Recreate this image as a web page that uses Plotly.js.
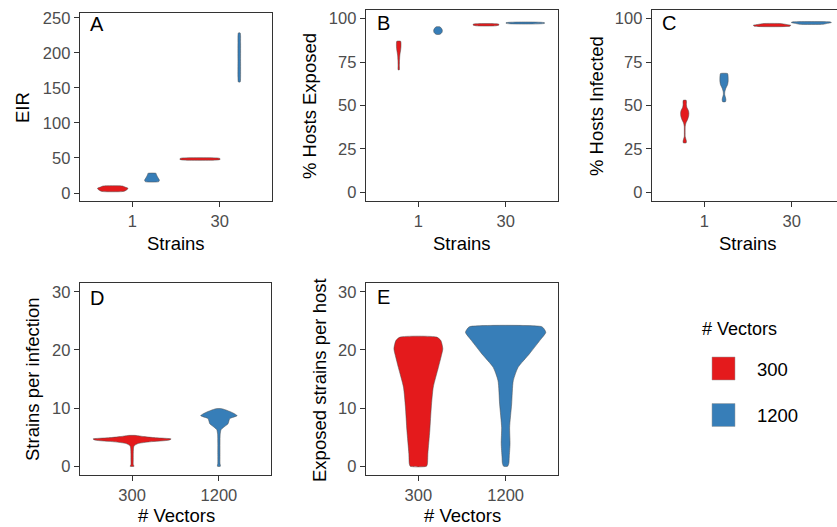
<!DOCTYPE html>
<html><head><meta charset="utf-8">
<script src="https://cdn.plot.ly/plotly-3.0.1.min.js"></script>
<style>html,body{margin:0;padding:0;background:#fff}#chart{width:837px;height:527px}</style>
</head><body><div id="chart"></div>
<script>
// ---------- categories ----------
const strainCats = ['1', '30'];
const vectorCats = ['300', '1200'];
const legendTitle = '# Vectors';

// ---------- violin density profiles ----------
// each violin: value levels (lv) and relative density / half-width at that level (dn, max = 1)
// Panel A: EIR
const eir_v300_s1_lv = [2, 3, 5, 6.7, 8.5, 10];
const eir_v300_s1_dn = [0.6, 0.8, 0.95, 1, 0.8, 0.64];
const eir_v1200_s1_lv = [16, 17, 18.5, 20, 22, 24, 26, 28];
const eir_v1200_s1_dn = [0.85, 0.97, 1, 0.92, 0.8, 0.7, 0.6, 0.55];
const eir_v300_s30_lv = [47, 48, 49, 50];
const eir_v300_s30_dn = [0.85, 1, 1, 0.9];
const eir_v1200_s30_lv = [158.5, 165, 190, 215, 228.5];
const eir_v1200_s30_dn = [0.7, 1, 1, 1, 0.7];
// Panel B: % hosts exposed
const exp_v300_s1_lv = [70.5, 73, 76, 79, 82, 84, 86, 87];
const exp_v300_s1_dn = [0.25, 0.3, 0.35, 0.5, 0.85, 1, 1, 0.85];
const exp_v1200_s1_lv = [91, 92, 93, 94, 95.3];
const exp_v1200_s1_dn = [0.45, 0.9, 1, 0.9, 0.45];
const exp_v300_s30_lv = [95.9, 96.4, 96.9];
const exp_v300_s30_dn = [0.75, 1, 0.95];
const exp_v1200_s30_lv = [97.3, 97.7];
const exp_v1200_s30_dn = [1, 1];
// Panel C: % hosts infected
const inf_v300_s1_lv = [28.5, 29.5, 30.5, 32, 35, 38, 40, 42, 44, 45.5, 47, 49, 50.5, 52, 53];
const inf_v300_s1_dn = [0.35, 0.4, 0.3, 0.12, 0.1, 0.12, 0.3, 0.7, 0.95, 1, 0.9, 0.5, 0.4, 0.42, 0.35];
const inf_v1200_s1_lv = [52.2, 53.5, 55, 56.5, 58, 60, 62, 64, 66, 67.5, 68.4];
const inf_v1200_s1_dn = [0.35, 0.45, 0.3, 0.15, 0.2, 0.45, 0.85, 1, 1, 0.95, 0.85];
const inf_v300_s30_lv = [95.7, 96.2, 96.7, 97.2];
const inf_v300_s30_dn = [0.95, 1, 0.75, 0.45];
const inf_v1200_s30_lv = [96.8, 97.3, 97.8, 98.1];
const inf_v1200_s30_dn = [0.6, 0.8, 1, 0.95];
// Panel D: strains per infection
const spi_v300_lv = [0, 0.3, 1, 2, 3, 3.5, 3.9, 4.2, 4.5, 4.7, 4.9, 5.1, 5.3];
const spi_v300_dn = [0.05, 0.03, 0.03, 0.03, 0.035, 0.05, 0.15, 0.45, 0.95, 1, 0.6, 0.3, 0.1];
const spi_v1200_lv = [0, 0.5, 2, 4, 5.5, 6.3, 6.8, 7.3, 7.8, 8.2, 8.7, 9.2, 9.6, 9.9];
const spi_v1200_dn = [0.08, 0.06, 0.06, 0.06, 0.07, 0.12, 0.3, 0.5, 0.55, 0.6, 1, 0.75, 0.45, 0.15];
// Panel E: exposed strains per host
const esh_v300_lv = [0, 0.4, 2.2, 6.2, 10.2, 13.6, 17, 19, 20.2, 21.6, 22.2];
const esh_v300_dn = [0.33, 0.37, 0.39, 0.47, 0.53, 0.61, 0.82, 0.94, 1, 0.92, 0.75];
const esh_v1200_lv = [0, 0.5, 1.6, 3.9, 6.7, 10.7, 14.7, 17, 19.3, 21.6, 23, 23.6, 24];
const esh_v1200_dn = [0.05, 0.08, 0.09, 0.11, 0.10, 0.15, 0.19, 0.31, 0.59, 0.85, 1, 0.96, 0.9];

// ---------- style ----------
const W = 837, H = 527;
const colors = {'300': '#E41A1C', '1200': '#377EB8'};
const FONT = 'Liberation Sans, Arial, sans-serif';
const dodge = 0.225;
const px = v => v / W;
const py = v => 1 - v / H;

// violin list: [lv, dn, vector group, category index (1-based), panel axis suffix, max width (x units), dodged]
const violins = [
  [eir_v300_s1_lv, eir_v300_s1_dn, '300', 1, '', 0.35, true],
  [eir_v1200_s1_lv, eir_v1200_s1_dn, '1200', 1, '', 0.17, true],
  [eir_v300_s30_lv, eir_v300_s30_dn, '300', 2, '', 0.46, true],
  [eir_v1200_s30_lv, eir_v1200_s30_dn, '1200', 2, '', 0.03, true],
  [exp_v300_s1_lv, exp_v300_s1_dn, '300', 1, '2', 0.052, true],
  [exp_v1200_s1_lv, exp_v1200_s1_dn, '1200', 1, '2', 0.1, true],
  [exp_v300_s30_lv, exp_v300_s30_dn, '300', 2, '2', 0.3, true],
  [exp_v1200_s30_lv, exp_v1200_s30_dn, '1200', 2, '2', 0.44, true],
  [inf_v300_s1_lv, inf_v300_s1_dn, '300', 1, '3', 0.095, true],
  [inf_v1200_s1_lv, inf_v1200_s1_dn, '1200', 1, '3', 0.095, true],
  [inf_v300_s30_lv, inf_v300_s30_dn, '300', 2, '3', 0.43, true],
  [inf_v1200_s30_lv, inf_v1200_s30_dn, '1200', 2, '3', 0.46, true],
  [spi_v300_lv, spi_v300_dn, '300', 1, '4', 0.9, false],
  [spi_v1200_lv, spi_v1200_dn, '1200', 2, '4', 0.42, false],
  [esh_v300_lv, esh_v300_dn, '300', 1, '5', 0.56, false],
  [esh_v1200_lv, esh_v1200_dn, '1200', 2, '5', 0.92, false]
];

const traces = violins.map(([lv, dn, grp, cat, ax, wid, dodged]) => {
  const c = dodged ? cat + (grp === '300' ? -dodge : dodge) : cat;
  const hw = wid / 2;
  const xs = [], ys = [];
  lv.forEach((v, i) => { xs.push(c + dn[i] * hw); ys.push(v); });
  for (let i = lv.length - 1; i >= 0; i--) { xs.push(c - dn[i] * hw); ys.push(lv[i]); }
  xs.push(xs[0]); ys.push(ys[0]);
  return {
    type: 'scatter', mode: 'lines', x: xs, y: ys, fill: 'toself',
    fillcolor: colors[grp], line: {color: '#4a4a4a', width: 0.5, shape: 'spline', smoothing: 0.6},
    xaxis: 'x' + ax, yaxis: 'y' + ax, hoverinfo: 'skip', showlegend: false, name: grp
  };
});

const tickfont = {family: FONT, size: 16.5, color: '#4D4D4D'};
function xa(dom, range, ticktext, anchor) {
  return {domain: [px(dom[0]), px(dom[1])], range, tickvals: [1, 2], ticktext, anchor,
    ticks: 'outside', ticklen: 5, tickwidth: 1, tickcolor: '#333', showline: true, mirror: true,
    linecolor: '#333', linewidth: 1.3, showgrid: false, zeroline: false, tickfont, fixedrange: true};
}
function ya(dom, range, tickvals, anchor, mirror) {
  return {domain: [py(dom[0]), py(dom[1])], range, tickvals, anchor,
    ticks: 'outside', ticklen: 5, tickwidth: 1, tickcolor: '#333', showline: true, mirror,
    linecolor: '#333', linewidth: 1.3, showgrid: false, zeroline: false, tickfont, fixedrange: true};
}

const ann = [];
function text(t, x, y, size, opts) {
  ann.push(Object.assign({text: t, x: px(x), y: py(y), xref: 'paper', yref: 'paper', showarrow: false,
    font: {family: FONT, size, color: '#000'}, xanchor: 'center', yanchor: 'middle'}, opts || {}));
}
// panel letters
text('A', 88, 24, 20, {xanchor: 'left'});
text('B', 375, 23, 20, {xanchor: 'left'});
text('C', 660, 23, 20, {xanchor: 'left'});
text('D', 88, 298, 20, {xanchor: 'left'});
text('E', 375, 297, 20, {xanchor: 'left'});
// axis titles
text('EIR', 22, 108, 18.5, {textangle: -90});
text('% Hosts Exposed', 309, 106, 18.5, {textangle: -90});
text('% Hosts Infected', 596, 106, 18.5, {textangle: -90});
text('Strains', 176, 243, 18.5);
text('Strains', 462, 243, 18.5);
text('Strains', 748, 243, 18.5);
text('Strains per infection', 32, 379, 18.5, {textangle: -90});
text('Exposed strains per host', 319, 380, 18.5, {textangle: -90});
text('# Vectors', 176, 515, 18.5);
text('# Vectors', 462, 515, 18.5);
// legend
text(legendTitle, 700, 329, 18, {xanchor: 'left'});
const shapes = [];
vectorCats.forEach((v, i) => {
  const top = 357 + i * 46.5;
  shapes.push({type: 'rect', xref: 'paper', yref: 'paper', x0: px(712), x1: px(735), y0: py(top + 23), y1: py(top),
    fillcolor: colors[v], line: {color: '#9a9a9a', width: 0.5}});
  text(v, 755, top + 12, 18.5, {xanchor: 'left'});
});

const layout = {
  width: W, height: H, margin: {l: 0, r: 0, t: 0, b: 0}, paper_bgcolor: '#fff', plot_bgcolor: '#fff',
  showlegend: false, font: {family: FONT},
  xaxis: xa([80, 272], [0.4, 2.6], strainCats, 'y'),
  yaxis: ya([201, 13], [-11.4, 257], [0, 50, 100, 150, 200, 250], 'x', true),
  xaxis2: xa([366, 558], [0.4, 2.6], strainCats, 'y2'),
  yaxis2: ya([201, 10], [-5, 105], [0, 25, 50, 75, 100], 'x2', true),
  xaxis3: xa([652, 837], [0.4, 2.519], strainCats, 'y3'),
  yaxis3: ya([201, 10], [-5, 105], [0, 25, 50, 75, 100], 'x3', false),
  xaxis4: xa([80, 271], [0.4, 2.6], vectorCats, 'y4'),
  yaxis4: ya([475, 283], [-1.5, 31.5], [0, 10, 20, 30], 'x4', true),
  xaxis5: xa([366, 558], [0.4, 2.6], vectorCats, 'y5'),
  yaxis5: ya([475, 283], [-1.5, 31.5], [0, 10, 20, 30], 'x5', true),
  annotations: ann, shapes
};

Plotly.newPlot('chart', traces, layout, {staticPlot: true, displayModeBar: false});
</script></body></html>
